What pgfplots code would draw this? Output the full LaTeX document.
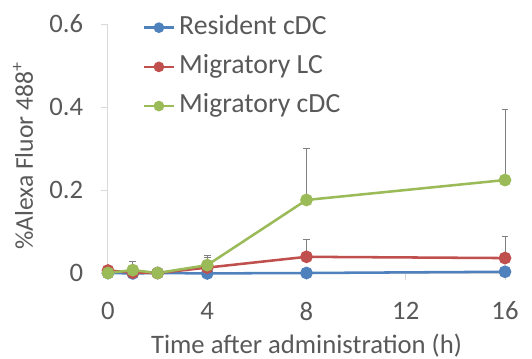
\documentclass[border=0pt]{standalone}
\usepackage{pgfplots}
\pgfplotsset{compat=1.18}
\usepackage{fontspec}
\setmainfont{Carlito}
\definecolor{cblue}{HTML}{4F81BD}
\definecolor{cred}{HTML}{C0504D}
\definecolor{cgreen}{HTML}{9BBB59}
\definecolor{txtgray}{HTML}{595959}
\definecolor{axgray}{HTML}{D9D9D9}
\definecolor{errgray}{HTML}{808080}
\begin{document}
\begin{tikzpicture}
\useasboundingbox (-81pt,-63.75pt) rectangle (318pt,204.75pt);
\begin{axis}[
  at={(0,0)}, anchor=south west,
  scale only axis, width=297.75pt, height=186.75pt,
  xmin=0, xmax=16, ymin=0, ymax=0.6,
  axis x line=bottom, axis y line=left,
  axis line style={draw=axgray, line width=0.75pt, -},
  xtick={0,4,8,12,16}, ytick={0,0.2,0.4,0.6},
  yticklabels={0,0.2,0.4,0.6},
  tick align=outside, major tick length=5.5pt,
  tick style={draw=axgray, line width=0.75pt},
  /pgf/number format/assume math mode=true,
  tick label style={font=\fontsize{20}{24}\selectfont, text=txtgray},
  yticklabel style={anchor=east, inner sep=0pt, xshift=-13pt},
  xticklabel style={anchor=north, inner sep=0pt, yshift=-16pt},
  xlabel={Time after administration (h)},
  ylabel={\%Alexa Fluor 488\textsuperscript{+}},
  label style={font=\fontsize{20}{24}\selectfont, text=txtgray},
  xlabel style={at={(rel axis cs:0.5,0)}, anchor=base, inner sep=0pt, yshift=-60pt},
  ylabel style={at={(rel axis cs:0,0.47)}, anchor=base, inner sep=0pt, yshift=56.25pt,
    font=\fontsize{19.2}{23}\selectfont},
  clip=false,
  legend style={draw=none, fill=none, inner sep=0pt, outer sep=0pt,
    at={(rel axis cs:0,1)}, anchor=north west, xshift=26pt, yshift=6.25pt,
    font=\fontsize{20.8}{25}\selectfont, text=txtgray,
    nodes={inner sep=0pt, text height=14pt, text depth=4pt},
    row sep=11.4pt, column sep=3pt},
  legend cell align=left,
  legend image code/.code={
    \draw[mark repeat=2, mark phase=2, mark size=3pt] plot coordinates {(0pt,0pt) (11.25pt,0pt) (22.5pt,0pt)};
  },
  every axis plot/.append style={line width=1.9pt, mark=*, mark size=3.8pt,
    mark options={solid}},
  error bars/error bar style={draw=errgray, line width=0.75pt},
  error bars/error mark options={draw=errgray, line width=0.75pt, rotate=90, mark size=2.5pt},
]
\addplot[cblue, mark options={fill=cblue, draw=cblue}] coordinates {
  (0,0) (1,-0.001) (2,0) (4,-0.001) (8,0) (16,0.003)
};
\addlegendentry{Resident cDC}
\addplot[cred, mark options={fill=cred, draw=cred},
  error bars/.cd, y dir=plus, y explicit] coordinates {
  (0,0.006) +- (0,0.004)
  (1,0.001) +- (0,0.0)
  (2,0) +- (0,0)
  (4,0.013) +- (0,0.024)
  (8,0.039) +- (0,0.042)
  (16,0.036) +- (0,0.052)
};
\addlegendentry{Migratory LC}
\addplot[cgreen, mark options={fill=cgreen, draw=cgreen},
  error bars/.cd, y dir=plus, y explicit] coordinates {
  (0,0) +- (0,0)
  (1,0.007) +- (0,0.020)
  (2,0) +- (0,0)
  (4,0.019) +- (0,0.024)
  (8,0.176) +- (0,0.123)
  (16,0.224) +- (0,0.169)
};
\addlegendentry{Migratory cDC}
\end{axis}
\end{tikzpicture}
\end{document}
